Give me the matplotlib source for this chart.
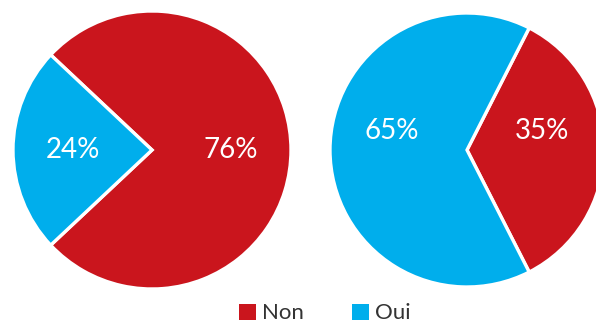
import matplotlib.pyplot as plt
from matplotlib.patches import Patch
import numpy as np

# data
labels = ['Non', 'Oui']
left_vals = [76, 24]
right_vals = [35, 65]
colors = {'Non': '#CA151D', 'Oui': '#00AEEC'}

plt.rcParams['font.family'] = ['Lato', 'DejaVu Sans']

fig = plt.figure(figsize=(5.96, 3.24), dpi=100)
W, H = 596, 324


def pie_axes(cx, cy, r):
    # pixel center/radius -> figure axes
    return fig.add_axes([(cx - r) / W, (H - cy - r) / H, 2 * r / W, 2 * r / H])


def draw_pie(ax, vals, start, label_r, dy):
    wedges, _ = ax.pie(vals, colors=[colors[l] for l in labels], startangle=start,
                       counterclock=True,
                       wedgeprops=dict(edgecolor='white', linewidth=2.4))
    ang = start
    for v in vals:
        mid = np.deg2rad(ang + v * 3.6 / 2)
        ax.text(label_r * np.cos(mid), label_r * np.sin(mid) + dy, f'{v}%',
                color='white', fontsize=20, fontweight='normal',
                ha='center', va='center')
        ang += v * 3.6
    ax.set_xlim(-1, 1)
    ax.set_ylim(-1, 1)
    ax.set_aspect('auto')
    ax.axis('off')


ax1 = pie_axes(152, 150, 139)
draw_pie(ax1, left_vals, 180 + 43.2 - 360, 0.57, 0.0)

ax2 = pie_axes(467, 150, 137)
draw_pie(ax2, right_vals, -63, 0.55, 0.14)

handles = [Patch(facecolor=colors[l], edgecolor='none', label=l) for l in labels]
fig.legend(handles=handles, loc='lower center', bbox_to_anchor=(0.545, -0.06), ncol=2,
           frameon=False, fontsize=16, handlelength=0.75, handleheight=0.75,
           handletextpad=0.25, columnspacing=2.2, labelcolor='#333333')

fig.savefig('out.png', dpi=100)
